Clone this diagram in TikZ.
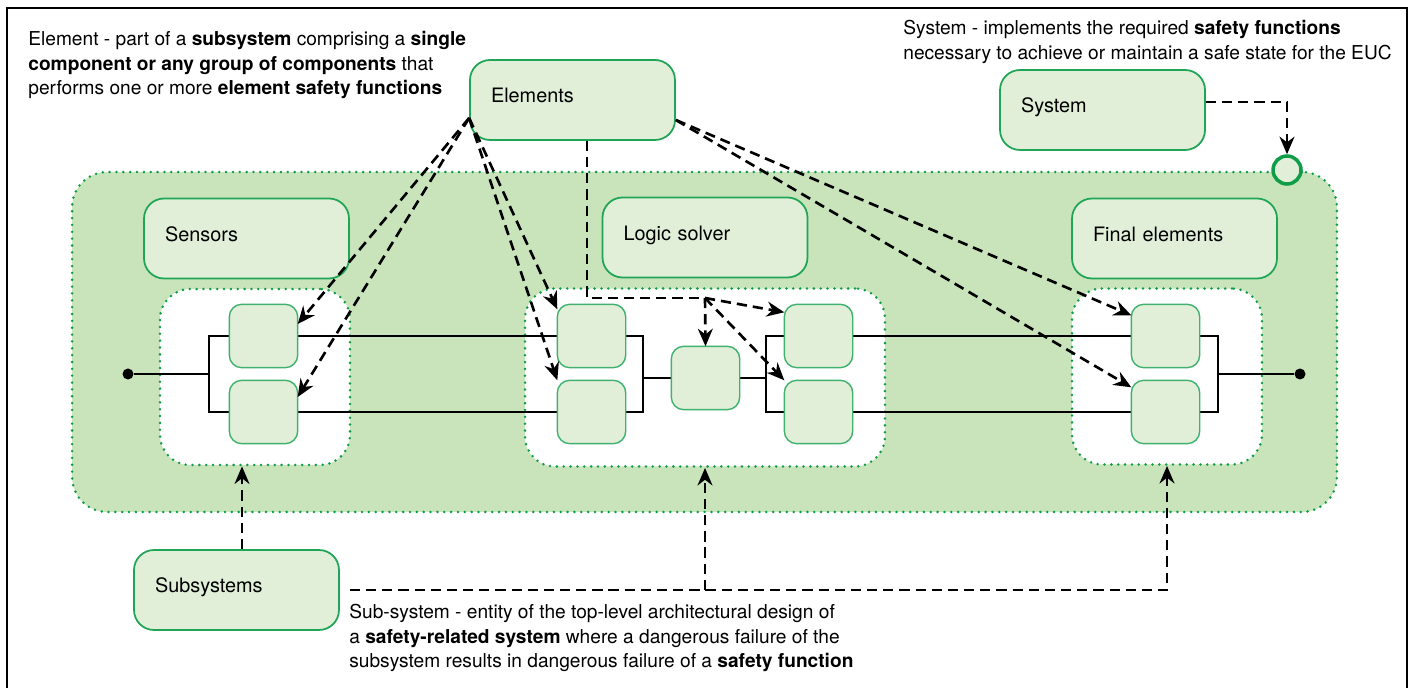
\documentclass[tikz,border=0pt]{standalone}
\usepackage{fontspec}
\setmainfont{TeX Gyre Heros}
\usetikzlibrary{arrows.meta}

\definecolor{regiongreen}{HTML}{C9E4BB}
\definecolor{boxfill}{HTML}{E1EFD9}
\definecolor{boxline}{HTML}{1FA555}
\definecolor{dotgreen}{HTML}{0F9D48}

\newcommand{\notefont}{\fontsize{10.9}{13.9}\selectfont}
\newcommand{\boxfont}{\fontsize{11.3}{13}\selectfont}

\tikzset{
  region/.style={draw=dotgreen, line width=1.6pt, dash pattern=on 0pt off 3.9pt,
    line cap=round, rounded corners=0.7cm, fill=regiongreen, inner sep=0pt},
  subregion/.style={region, fill=white, rounded corners=0.6cm},
  bigbox/.style={draw=boxline, line width=1pt, fill=boxfill, rounded corners=0.4cm,
    minimum width=4.1cm, minimum height=1.6cm, inner xsep=0.42cm,
    text width=3.26cm, text height=0.75em, text depth=0.43em,
    align=left, font=\boxfont},
  elem/.style={draw=boxline!85, line width=0.8pt, fill=boxfill, rounded corners=0.25cm,
    minimum width=1.34cm, minimum height=1.24cm, inner sep=0pt},
  wire/.style={line width=1.4pt},
  dashline/.style={line width=1.5pt, dash pattern=on 5.8pt off 3.4pt},
  dasharrow/.style={dashline, -{Stealth[length=10pt,width=8.5pt]}},
  dot/.style={circle, fill, inner sep=0pt, minimum size=0.22cm},
  note/.style={font=\notefont, align=left, inner sep=0pt},
}

\begin{document}
\begin{tikzpicture}[x=0.02cm,y=-0.02cm]
\useasboundingbox (0,0) rectangle (1412,688);
% frame
\draw[line width=1.3pt] (7,688) -- (7,8) -- (1407,8) -- (1407,688);

% notes
\node[note, anchor=north west] (elnote) at (28,31)
  {Element - part of a \textbf{subsystem} comprising a \textbf{single}\\
   \textbf{component or any group of components} that\\
   performs one or more \textbf{element safety functions}};
\node[note, anchor=north west] (sysnote) at (903,20)
  {System - implements the required \textbf{safety functions}\\
   necessary to achieve or maintain a safe state for the EUC};
\node[note, anchor=north west] (subnote) at (349,604)
  {Sub-system - entity of the top-level architectural design of\\
   a \textbf{safety-related system} where a dangerous failure of the\\
   subsystem results in dangerous failure of a \textbf{safety function}};

% regions
\node[region, minimum width=25.3cm, minimum height=6.8cm] (sys) at (704.5,342) {};
\node[circle, draw=dotgreen, line width=2pt, fill=boxfill, minimum size=0.56cm,
  inner sep=0pt] (euc) at (1287,170) {};
\node[subregion, minimum width=3.8cm, minimum height=3.52cm] (sensin) at (255,377) {};
\node[subregion, minimum width=7.2cm, minimum height=3.56cm] (logicin) at (705,377.5) {};
\node[subregion, minimum width=3.8cm, minimum height=3.52cm] (finin) at (1167,376.5) {};

% labelled boxes
\node[bigbox] (elements) at (572.5,100) {Elements};
\node[bigbox] (system) at (1102.5,110) {System};
\node[bigbox] (sensors) at (246.5,238.5) {Sensors};
\node[bigbox] (logic) at (705,237.5) {Logic solver};
\node[bigbox] (final) at (1174.5,238.5) {Final elements};
\node[bigbox] (subsystems) at (236.5,590) {Subsystems};

% channel elements
\node[elem] (sA) at (263.5,336) {};
\node[elem] (sB) at (263.5,412) {};
\node[elem] (L1) at (591.5,336) {};
\node[elem] (L2) at (591.5,412) {};
\node[elem] (L3) at (705.5,378) {};
\node[elem] (L4) at (818.5,336) {};
\node[elem] (L5) at (818.5,412) {};
\node[elem] (F1) at (1165.5,336) {};
\node[elem] (F2) at (1165.5,412) {};

% wiring
\node[dot] (dl) at (128,374) {};
\node[dot] (dr) at (1300,374) {};
\coordinate (j1) at (209,374);
\coordinate (j2) at (643,378);
\coordinate (j3) at (766,378);
\coordinate (j4) at (1218,374);
\draw[wire] (dl) -- (j1);
\draw[wire] (sA.west) -| (j1) |- (sB.west);
\draw[wire] (sA.east) -- (L1.west);
\draw[wire] (sB.east) -- (L2.west);
\draw[wire] (L1.east) -| (j2) |- (L2.east);
\draw[wire] (j2) -- (L3.west);
\draw[wire] (L3.east) -- (j3);
\draw[wire] (L4.west) -| (j3) |- (L5.west);
\draw[wire] (L4.east) -- (F1.west);
\draw[wire] (L5.east) -- (F2.west);
\draw[wire] (F1.east) -| (j4) |- (F2.east);
\draw[wire] (j4) -- (dr);
% redraw elements over the wires
\foreach \e in {sA,sB,L1,L2,L3,L4,L5,F1,F2}
  \path[elem, draw=boxline!85] (\e.south west) rectangle (\e.north east);

% dashed references
\draw[dasharrow] ([yshift=-0.36cm]elements.west) -- ([yshift=0.24cm]sA.east);
\draw[dasharrow] ([yshift=-0.36cm]elements.west) -- ([yshift=0.3cm]sB.east);
\draw[dasharrow] ([yshift=-0.36cm]elements.west) -- ([yshift=-0.1cm]L1.north west);
\draw[dasharrow] ([yshift=-0.36cm]elements.west) -- (L2.north west);
\coordinate (hub) at (705,298);
\draw[dashline] ([xshift=0.29cm]elements.south) |- (hub);
\draw[dasharrow] (hub) -- (L3.north);
\draw[dasharrow] (hub) -- ([yshift=-0.16cm]L4.north west);
\draw[dasharrow] (hub) -- (L5.north west);
\draw[dasharrow] ([yshift=-0.4cm]elements.east) -- ([yshift=-0.22cm]F1.north west);
\draw[dasharrow] ([yshift=-0.4cm]elements.east) -- ([yshift=-0.14cm]F2.north west);
\draw[dasharrow] ([yshift=0.16cm]system.east) -| (euc.north);

\path ([xshift=0.11cm]subsystems.north) coordinate (s0);
\draw[dasharrow] (s0) -- (s0 |- sensin.south);
\draw[dasharrow] ([xshift=0.2cm]subsystems.east) -| (finin.south);
\draw[dasharrow] (logicin.south |- subsystems.east) -- (logicin.south);
\end{tikzpicture}
\end{document}
